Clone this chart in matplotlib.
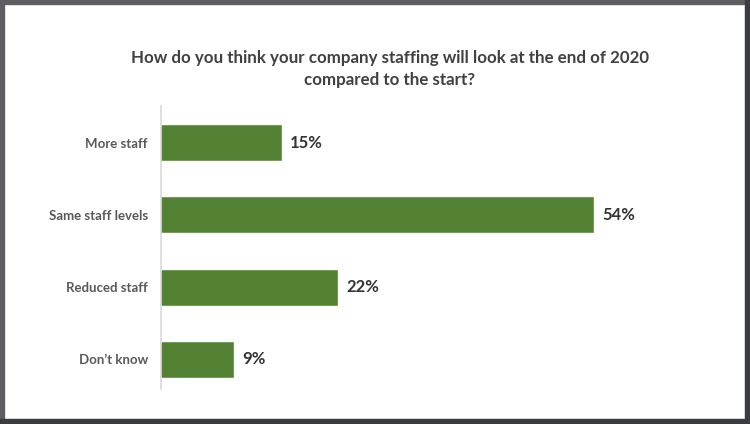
import matplotlib
matplotlib.use("Agg")
import matplotlib.pyplot as plt
from matplotlib.patches import Rectangle

categories = ["More staff", "Same staff levels", "Reduced staff", "Don\u2019t know"]
values = [15, 54, 22, 9]
value_labels = ["15%", "54%", "22%", "9%"]
title = "How do you think your company staffing will look at the end of 2020\ncompared to the start?"

W, H = 750, 424
fig = plt.figure(figsize=(W / 100, H / 100), dpi=100)
fig.patch.set_facecolor("white")

# border frame
fig.patches.append(Rectangle((0, 0), 4 / W, 1, transform=fig.transFigure, color="#5d5d62", zorder=10))
fig.patches.append(Rectangle((0, 1 - 4 / H), 1, 4 / H, transform=fig.transFigure, color="#5d5d62", zorder=10))
fig.patches.append(Rectangle((1 - 5 / W, 0), 5 / W, 1, transform=fig.transFigure, color="#3b3b42", zorder=11))
fig.patches.append(Rectangle((0, 0), 1, 5 / H, transform=fig.transFigure, color="#3b3b42", zorder=11))

ax_left, ax_top, ax_bottom = 161, 106, 389
ax_right = 161 + 60 * 8.0
ax = fig.add_axes([ax_left / W, 1 - ax_bottom / H, (ax_right - ax_left) / W, (ax_bottom - ax_top) / H])
ax.set_facecolor("none")

y = list(range(len(categories)))
ax.barh(y, values, height=0.485, color="#548235", edgecolor="#6a9a4a", linewidth=0.6)
ax.set_xlim(0, 60)
ax.set_ylim(3.41, -0.505)

for spine in ["top", "right", "bottom"]:
    ax.spines[spine].set_visible(False)
ax.spines["left"].set_color("#d9d9d9")
ax.spines["left"].set_linewidth(1.2)
ax.set_xticks([])
ax.set_yticks(y)
ax.set_yticklabels(categories, fontfamily="Lato", fontweight="bold", fontsize=9.5, color="#595959")
ax.tick_params(axis="y", length=0, pad=9.5)

for yi, v, lab in zip(y, values, value_labels):
    ax.annotate(lab, (v, yi), xytext=(6.5, 0), textcoords="offset points",
                ha="left", va="center", fontfamily="Lato", fontweight="bold",
                fontsize=12, color="#333333")

fig.text(390 / W, 1 - 69 / H, title, ha="center", va="center", fontfamily="Lato",
         fontweight="bold", fontsize=12.2, color="#404040", linespacing=1.5)

fig.savefig("out.png", dpi=100)
